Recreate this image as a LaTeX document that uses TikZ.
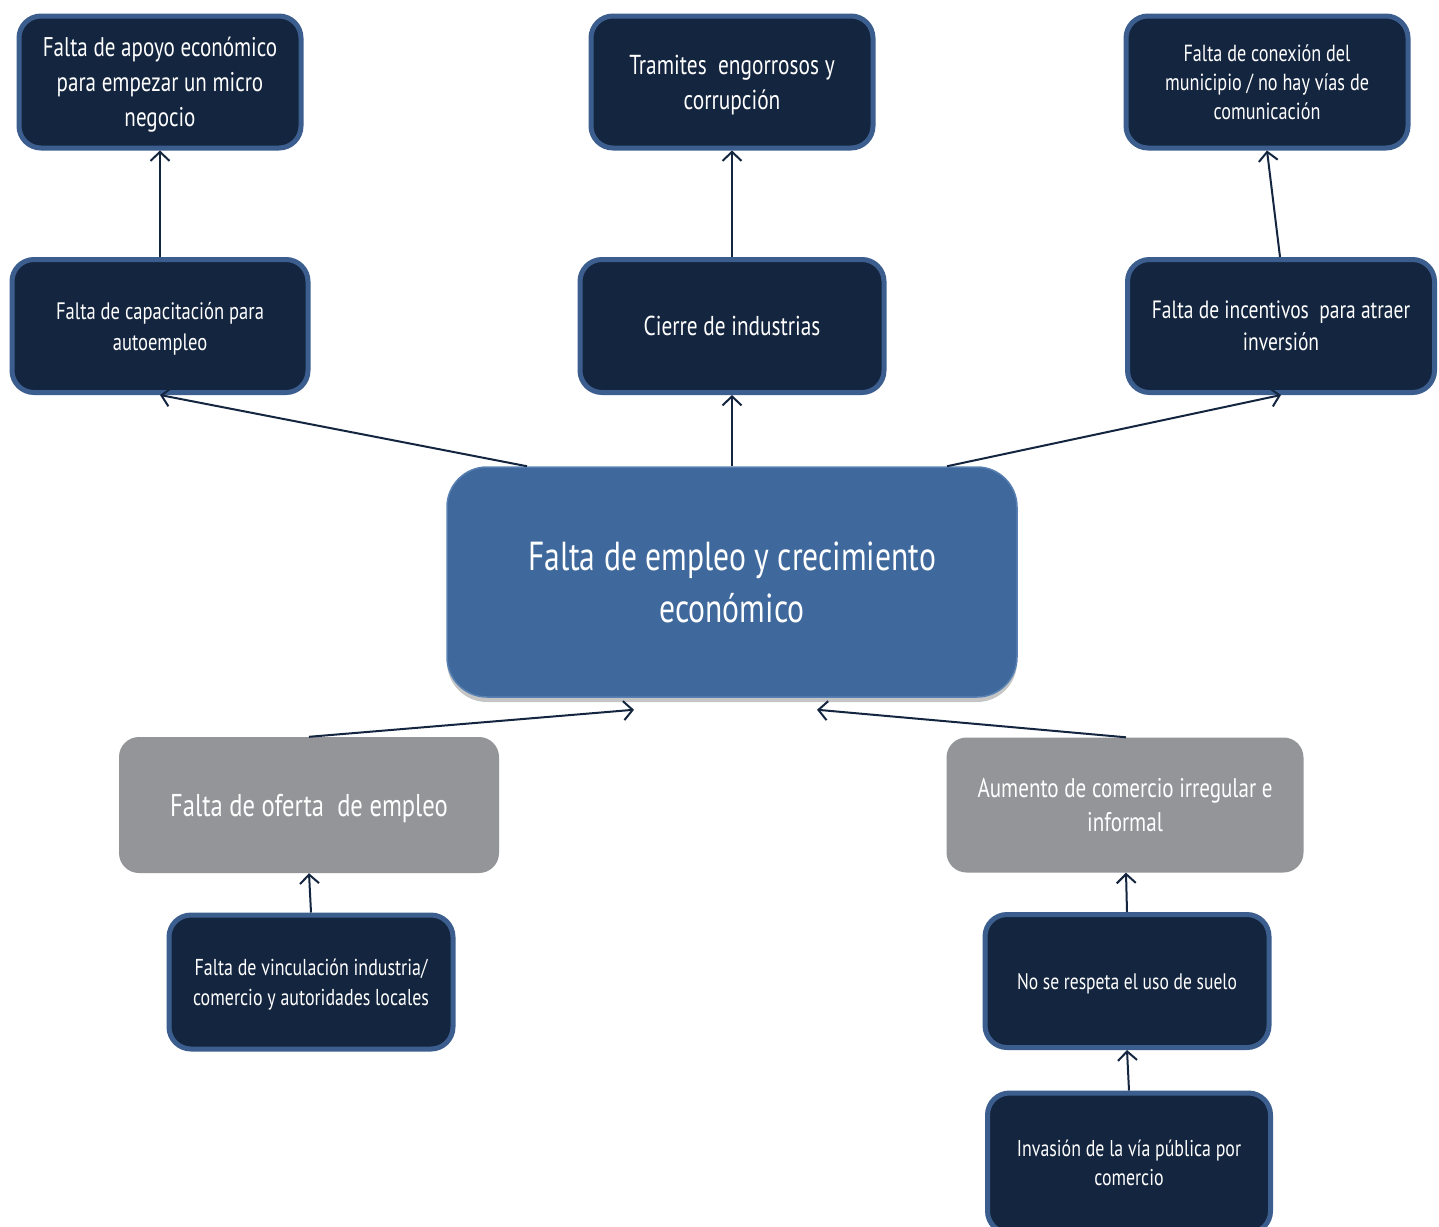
\documentclass[tikz,border=0pt]{standalone}
\usepackage{fontspec}
\setmainfont[FakeStretch=0.78]{PT Sans}
\usetikzlibrary{arrows.meta,shadows}
\definecolor{navy}{RGB}{20,37,63}
\definecolor{bordblue}{RGB}{59,94,142}
\definecolor{mainblue}{RGB}{63,105,156}
\definecolor{mainedge}{RGB}{88,128,178}
\definecolor{grayfill}{RGB}{147,149,152}
\begin{document}
\begin{tikzpicture}[x=1pt,y=-1pt,
  nbox/.style={draw=bordblue, line width=5pt, fill=navy, rounded corners=22pt,
    text=white, align=center, inner sep=0pt, text depth=0pt},
  gbox/.style={fill=grayfill, rounded corners=20pt, text=white, align=center, inner sep=0pt, text depth=0pt},
  mbox/.style={draw=mainedge, line width=1.5pt, fill=mainblue, rounded corners=40pt,
    text=white, align=center, inner sep=0pt, text depth=0pt,
    drop shadow={opacity=0.45, shadow xshift=0pt, shadow yshift=-5pt}},
  arr/.style={draw=navy, line width=2pt, -{Straight Barb[length=9pt,width=19pt]}},
]
\useasboundingbox (0,0) rectangle (1439,1226);
\fill[white] (0,0) rectangle (1439,1226);

% top row
\node[nbox, font=\fontsize{27}{35}\selectfont, minimum width=282, minimum height=132] (a1) at (160,82)
  {Falta de apoyo económico\\para empezar un micro\\negocio};
\node[nbox, font=\fontsize{27.4}{35}\selectfont, minimum width=282, minimum height=132] (b1) at (732,82)
  {Tramites\ \ engorrosos y\\corrupción};
\node[nbox, font=\fontsize{23.3}{29}\selectfont, minimum width=282, minimum height=132] (c1) at (1267,82)
  {Falta de conexión del\\municipio / no hay vías de\\comunicación};

% second row
\node[nbox, font=\fontsize{23.8}{31}\selectfont, minimum width=296, minimum height=133] (a2) at (160,326)
  {Falta de capacitación para\\autoempleo};
\node[nbox, font=\fontsize{27.3}{32}\selectfont, minimum width=304, minimum height=133] (b2) at (732,326)
  {Cierre de industrias};
\node[nbox, font=\fontsize{25}{32}\selectfont, minimum width=307, minimum height=133] (c2) at (1281,326)
  {Falta de incentivos\ \ para atraer\\inversión};

% main
\node[mbox, font=\fontsize{40.5}{52}\selectfont, minimum width=570, minimum height=230] (main) at (732,582)
  {Falta de empleo y crecimiento\\económico};

% gray
\node[gbox, font=\fontsize{31.5}{36}\selectfont, minimum width=380, minimum height=136] (gl) at (309,805)
  {Falta de oferta\ \ de empleo};
\node[gbox, font=\fontsize{27}{34}\selectfont, minimum width=357, minimum height=135] (gr) at (1125,805)
  {Aumento de comercio irregular e\\informal};

% bottom
\node[nbox, font=\fontsize{23}{30}\selectfont, minimum width=284, minimum height=134] (d1) at (311,982)
  {Falta de vinculación industria/\\comercio y autoridades locales};
\node[nbox, font=\fontsize{22.5}{30}\selectfont, minimum width=284, minimum height=133] (e1) at (1127,981)
  {No se respeta el uso de suelo};
\node[nbox, font=\fontsize{22.9}{29}\selectfont, minimum width=283, minimum height=140] (e2) at (1129,1163)
  {Invasión de la vía pública por\\comercio};

% connectors
\draw[arr] (a2.north) -- (a1.south);
\draw[arr] (b2.north) -- (b1.south);
\draw[arr] ([xshift=-1pt]c2.north) -- (c1.south);
\draw[arr] ([xshift=-205pt]main.north) -- (a2.south);
\draw[arr] (main.north) -- (b2.south);
\draw[arr] ([xshift=215pt]main.north) -- (c2.south);
\draw[arr] (gl.north) -- ([xshift=-98pt,yshift=-12pt]main.south);
\draw[arr] ([xshift=1pt]gr.north) -- ([xshift=85pt,yshift=-12pt]main.south);
\draw[arr] (d1.north) -- (gl.south);
\draw[arr] (e1.north) -- ([xshift=1pt]gr.south);
\draw[arr] (e2.north) -- (e1.south);
\end{tikzpicture}
\end{document}
